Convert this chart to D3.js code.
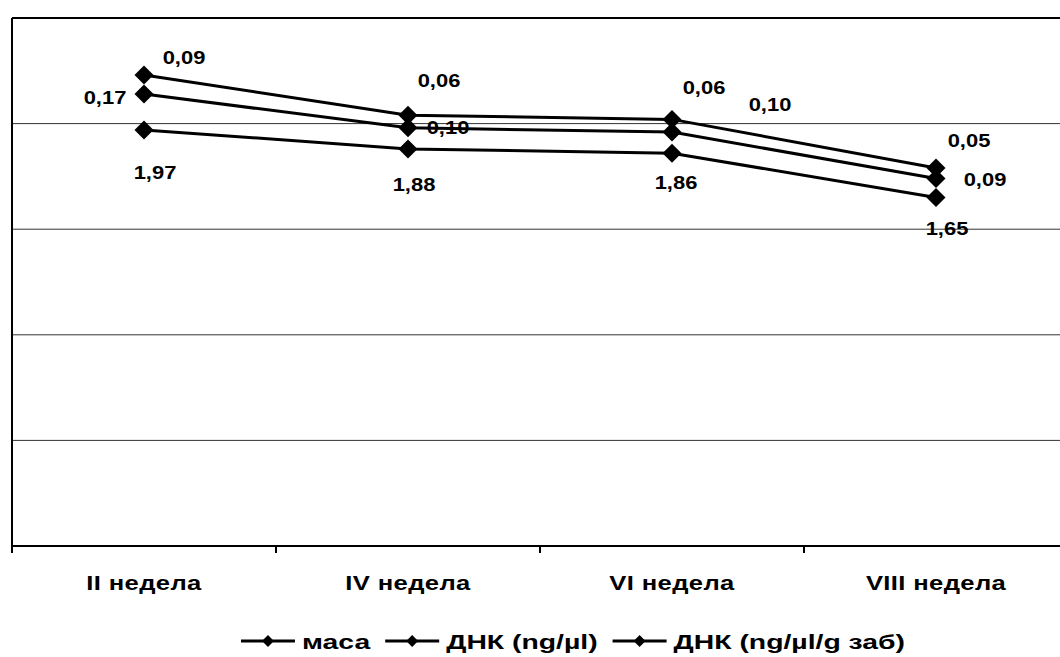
<!DOCTYPE html>
<html>
<head>
<meta charset="utf-8">
<script src="https://cdn.jsdelivr.net/npm/d3@7"></script>
<style>
    body { margin: 0; background: #fff; }
    svg { display: block; }
    text { font-family: "Liberation Sans", Arial, sans-serif; font-weight: bold; fill: #000; }
</style>
</head>
<body>
<div id="chart"></div>
<script>
//Chart values (stacked line chart, no y labels shown)
var weeks = ["II недела", "IV недела", "VI недела", "VIII недела"];
var seriesNames = ["маса", "ДНК (ng/µl)", "ДНК (ng/µl/g заб)"];
var masa = [1.97, 1.88, 1.86, 1.65];
var dnk = [0.17, 0.10, 0.10, 0.09];
var dnkG = [0.09, 0.06, 0.06, 0.05];
var yTicks = [0, 0.5, 1, 1.5, 2, 2.5];

//Label offsets from each point (hand placed in the original)
var labelOffsets = [
    [[11, 43], [6, 36], [4, 29], [11, 31]],
    [[-39, 3], [40, 0], [98, -28], [49, 1]],
    [[40, -18], [31, -35], [32, -32], [33, -27]]
];

var width = 1060, height = 657;
var plotLeft = 12, plotRight = 1068, plotTop = 18, plotBottom = 546;
var stretch = 1.22;
var legendStretch = 1.35;

var svg = d3.select("#chart")
    .append("svg")
    .attr("width", width)
    .attr("height", height);

var rows = weeks.map(function (w, i) {
    return { week: w, s0: masa[i], s1: dnk[i], s2: dnkG[i] };
});
var stacked = d3.stack().keys(["s0", "s1", "s2"])(rows);
var seriesValues = [masa, dnk, dnkG];

var x = d3.scaleBand()
    .domain(weeks)
    .range([plotLeft, plotRight])
    .padding(0);

var y = d3.scaleLinear()
    .domain([0, 2.5])
    .range([plotBottom, plotTop]);

function cx(w) {
    return x(w) + x.bandwidth() / 2;
}

//Gridlines
svg.append("g")
    .selectAll("line")
    .data(yTicks.slice(1, -1))
    .enter()
    .append("line")
    .attr("x1", plotLeft)
    .attr("x2", width)
    .attr("y1", function (d) { return y(d); })
    .attr("y2", function (d) { return y(d); })
    .attr("stroke", "#333")
    .attr("stroke-width", 1);

//Top border
svg.append("line")
    .attr("x1", plotLeft)
    .attr("x2", width)
    .attr("y1", y(2.5))
    .attr("y2", y(2.5))
    .attr("stroke", "#000")
    .attr("stroke-width", 2);

//Left axis line
svg.append("line")
    .attr("x1", plotLeft)
    .attr("x2", plotLeft)
    .attr("y1", plotTop)
    .attr("y2", plotBottom + 7)
    .attr("stroke", "#000")
    .attr("stroke-width", 2);

//X axis with ticks between categories
var xAxis = svg.append("g")
    .attr("transform", "translate(0," + plotBottom + ")");

xAxis.append("line")
    .attr("x1", plotLeft)
    .attr("x2", width)
    .attr("stroke", "#000")
    .attr("stroke-width", 2);

xAxis.selectAll(".tick")
    .data(weeks.slice(1))
    .enter()
    .append("line")
    .attr("x1", function (d) { return x(d); })
    .attr("x2", function (d) { return x(d); })
    .attr("y1", 0)
    .attr("y2", 7)
    .attr("stroke", "#000")
    .attr("stroke-width", 2);

xAxis.selectAll(".wlabel")
    .data(weeks)
    .enter()
    .append("text")
    .attr("transform", function (d) { return "translate(" + cx(d) + ",44) scale(" + stretch + ",1)"; })
    .attr("text-anchor", "middle")
    .attr("font-size", "21px")
    .style("letter-spacing", "0.3px")
    .text(function (d) { return d; });

//Lines and diamond markers
var line = d3.line()
    .x(function (d) { return cx(d.data.week); })
    .y(function (d) { return y(d[1]); });

var diamond = d3.symbol().type(d3.symbolSquare).size(180);

stacked.forEach(function (layer, si) {
    svg.append("path")
        .datum(layer)
        .attr("d", line)
        .attr("fill", "none")
        .attr("stroke", "#000")
        .attr("stroke-width", 3);

    svg.append("g")
        .selectAll("path")
        .data(layer)
        .enter()
        .append("path")
        .attr("d", diamond)
        .attr("transform", function (d) {
            return "translate(" + cx(d.data.week) + "," + y(d[1]) + ") rotate(45)";
        })
        .attr("fill", "#000");

    svg.append("g")
        .selectAll("text")
        .data(layer)
        .enter()
        .append("text")
        .attr("transform", function (d, i) {
            var off = labelOffsets[si][i];
            return "translate(" + (cx(d.data.week) + off[0]) + "," + (y(d[1]) + off[1]) + ") scale(" + stretch + ",1)";
        })
        .attr("dy", "0.36em")
        .attr("text-anchor", "middle")
        .attr("font-size", "18px")
        .text(function (d, i) { return d3.format(".2f")(seriesValues[si][i]).replace(".", ","); });
});

//Legend, laid out in a row and centered
var legend = svg.append("g");
var legendY = 641;
var cursor = 0;
seriesNames.forEach(function (name) {
    var g = legend.append("g").attr("transform", "translate(" + cursor + "," + legendY + ")");
    g.append("line")
        .attr("x1", 0)
        .attr("x2", 54)
        .attr("stroke", "#000")
        .attr("stroke-width", 3);
    g.append("path")
        .attr("d", d3.symbol().type(d3.symbolSquare).size(70))
        .attr("transform", "translate(27,0) rotate(45)")
        .attr("fill", "#000");
    var t = g.append("text")
        .attr("transform", "translate(61,0) scale(" + legendStretch + ",1)")
        .attr("dy", "0.36em")
        .attr("font-size", "21px")
        .text(name);
    var w = t.node().getComputedTextLength() * legendStretch;
    cursor += 61 + w + 15;
});
var legendWidth = cursor - 15;
legend.attr("transform", "translate(" + (573 - legendWidth / 2) + ",0)");
</script>
</body>
</html>
